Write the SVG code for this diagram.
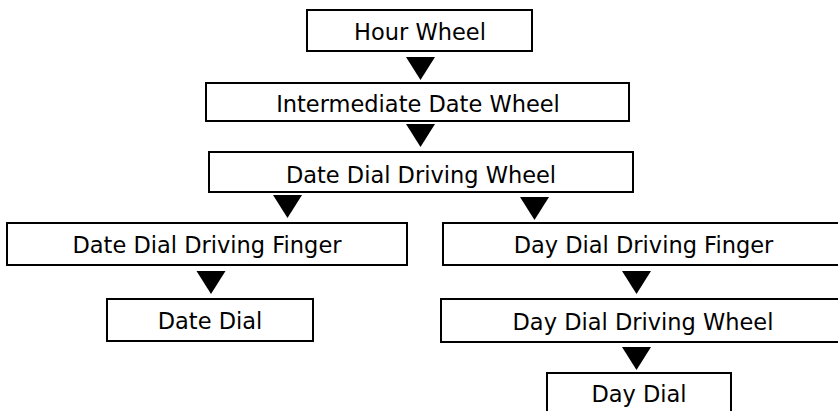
<svg xmlns="http://www.w3.org/2000/svg" xmlns:xlink="http://www.w3.org/1999/xlink" width="838" height="411" viewBox="0 0 838 411">
<style>
.box{fill:#fff;stroke:#000;stroke-width:2}
.lbl{font-family:"DejaVu Sans","Liberation Sans",sans-serif;font-size:22.5px;fill:#000;text-anchor:middle}
.arr{fill:#000}
</style>
<defs>
<path id="tri" d="M0,0 L29,0 L14.5,23 Z"/>
</defs>
<rect width="838" height="411" fill="#fff"/>
<g id="connectors" class="arr">
<use xlink:href="#tri" x="406" y="57"/>
<use xlink:href="#tri" x="406" y="124"/>
<use xlink:href="#tri" x="273" y="195"/>
<use xlink:href="#tri" x="520" y="197"/>
<use xlink:href="#tri" x="196.5" y="271"/>
<use xlink:href="#tri" x="622" y="271"/>
<use xlink:href="#tri" x="622" y="347"/>
</g>
<g id="hour-wheel">
<rect class="box" x="307" y="10" width="225" height="41"/>
<text class="lbl" x="420" y="40">Hour Wheel</text>
</g>
<g id="intermediate-date-wheel">
<rect class="box" x="206" y="83" width="423" height="38"/>
<text class="lbl" x="418" y="111.5">Intermediate Date Wheel</text>
</g>
<g id="date-dial-driving-wheel">
<rect class="box" x="209" y="152" width="424" height="40"/>
<text class="lbl" x="421" y="182.5">Date Dial Driving Wheel</text>
</g>
<g id="date-dial-driving-finger">
<rect class="box" x="7" y="223" width="400" height="42"/>
<text class="lbl" x="207" y="253">Date Dial Driving Finger</text>
</g>
<g id="date-dial">
<rect class="box" x="107" y="299" width="206" height="42"/>
<text class="lbl" x="210" y="328.5">Date Dial</text>
</g>
<g id="day-dial-driving-finger">
<rect class="box" x="443" y="223" width="402" height="42"/>
<text class="lbl" x="643.5" y="253">Day Dial Driving Finger</text>
</g>
<g id="day-dial-driving-wheel">
<rect class="box" x="441" y="299" width="404" height="43"/>
<text class="lbl" x="643" y="329.5">Day Dial Driving Wheel</text>
</g>
<g id="day-dial">
<rect class="box" x="547" y="373" width="184" height="50"/>
<text class="lbl" x="639" y="401.5">Day Dial</text>
</g>
</svg>
